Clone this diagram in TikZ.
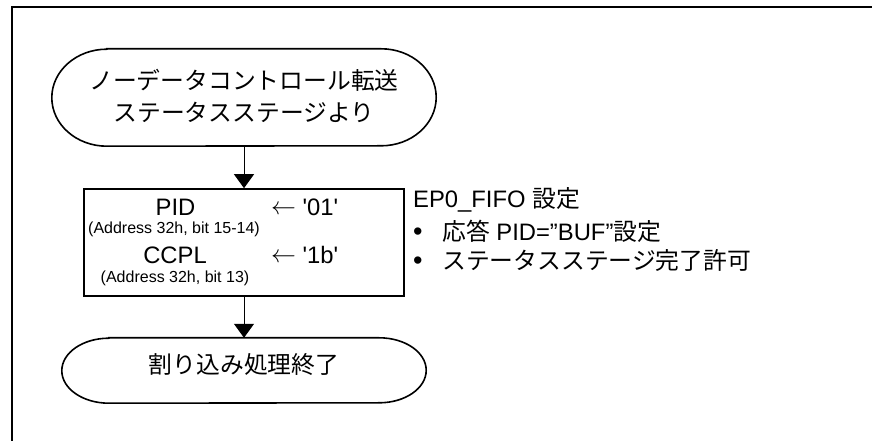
\documentclass[tikz,border=0pt]{standalone}
\usepackage{fontspec}
\setmainfont{Liberation Sans}
\newfontfamily\jp{Noto Sans CJK JP}
\usetikzlibrary{arrows.meta}
\newcommand\larrw{{\fontsize{24}{26}\selectfont\raisebox{1pt}{$\leftarrow$}}}
\begin{document}
\begin{tikzpicture}[x=1pt,y=1pt,
  frame/.style={line width=2pt},
  shapeline/.style={line width=1.6pt},
  conn/.style={line width=1pt,-{Triangle[width=20pt,length=14pt]}},
  big/.style={font=\fontsize{23.8}{28}\selectfont, inner sep=0pt},
  small/.style={font=\fontsize{16}{19}\selectfont, inner sep=0pt},
  holder/.style={draw=none, inner sep=0pt}]
\useasboundingbox (0,0) rectangle (872,441);
\draw[frame] (11.5,-2) -- (11.5,434) -- (874,434);

% start terminal
\node[holder, minimum width=384pt, minimum height=97pt] (start) at (244,343.5) {};
\draw[shapeline] ([xshift=55pt]start.north west) -- ([xshift=-55pt]start.north east)
  arc[start angle=90,end angle=-90,x radius=55pt,y radius=48.5pt]
  -- ([xshift=55pt]start.south west)
  arc[start angle=270,end angle=90,x radius=55pt,y radius=48.5pt] -- cycle;
\node[big, anchor=base] (s1) at (244,351.5) {\jp ノーデータコントロール転送};
\node[big, anchor=base] (s2) at (244,319.5) {\jp ステータスステージより};

% register box
\node[draw, shapeline, minimum width=320pt, minimum height=107pt, inner sep=0pt] (box) at (244,198.5) {};
\node[big, anchor=base] (pid) at (175.5,225.3) {PID};
\node[big, anchor=base west] (v1) at (271,225.3) {\larrw\ \textquotesingle 01\textquotesingle};
\node[small, anchor=base] (a1) at (174,207.5) {(Address 32h, bit 15-14)};
\node[big, anchor=base] (ccpl) at (175,177.7) {CCPL};
\node[big, anchor=base west] (v2) at (271,177.7) {\larrw\ \textquotesingle 1b\textquotesingle};
\node[small, anchor=base] (a2) at (175,158) {(Address 32h, bit 13)};

% note
\node[big, anchor=base west] (n0) at (413,233.5) {EP0\_FIFO {\jp 設定}};
\node[big, anchor=base west] (b1) at (413,200) {\fontsize{27}{28}\selectfont •};
\node[big, anchor=base west] (n1) at (442,200) {{\jp 応答} PID=”BUF”{\jp 設定}};
\node[big, anchor=base west] (b2) at (413,171) {\fontsize{27}{28}\selectfont •};
\node[big, anchor=base west] (n2) at (442,171) {\jp ステータスステージ完了許可};

% end terminal
\node[holder, minimum width=364pt, minimum height=65pt] (fin) at (244,70.5) {};
\draw[shapeline] ([xshift=47pt]fin.north west) -- ([xshift=-47pt]fin.north east)
  arc[start angle=90,end angle=-90,x radius=47pt,y radius=32.5pt]
  -- ([xshift=47pt]fin.south west)
  arc[start angle=270,end angle=90,x radius=47pt,y radius=32.5pt] -- cycle;
\node[big, anchor=base] (e1) at (244,67) {\jp 割り込み処理終了};

% connectors
\draw[conn] (start.south) -- (box.north);
\draw[conn] (box.south) -- (fin.north);
\end{tikzpicture}
\end{document}
